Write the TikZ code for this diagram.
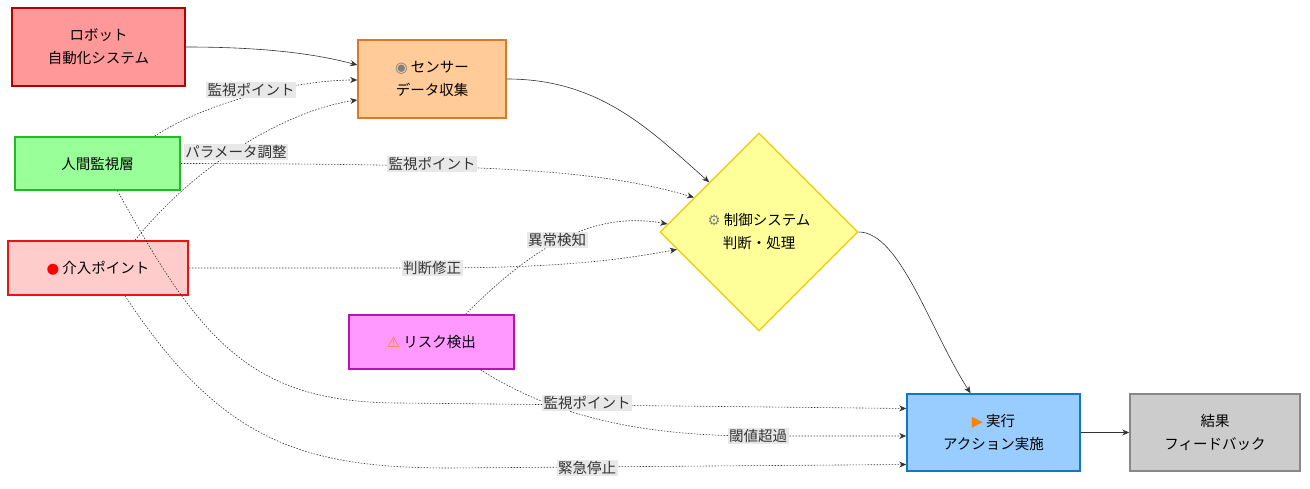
\documentclass[tikz,border=0pt]{standalone}
\usepackage{fontspec}
\setmainfont{Noto Sans CJK JP}
\newfontfamily\sym{DejaVu Sans}
\usetikzlibrary{shapes.geometric,arrows.meta}
\definecolor{ln}{HTML}{333333}
\definecolor{rF}{HTML}{FF9999}\definecolor{rD}{HTML}{B40000}
\definecolor{sF}{HTML}{FFCC99}\definecolor{sD}{HTML}{E07820}
\definecolor{hF}{HTML}{99FF99}\definecolor{hD}{HTML}{22BB22}
\definecolor{iF}{HTML}{FFCCCC}\definecolor{iD}{HTML}{EE1111}
\definecolor{kF}{HTML}{FF99FF}\definecolor{kD}{HTML}{BB11BB}
\definecolor{cF}{HTML}{FFFF99}\definecolor{cD}{HTML}{EECC00}
\definecolor{eF}{HTML}{99CCFF}\definecolor{eD}{HTML}{1177CC}
\definecolor{gF}{HTML}{CCCCCC}\definecolor{gD}{HTML}{888888}
\begin{document}
\begin{tikzpicture}[x=1pt,y=-1pt,font=\fontsize{14.5}{23}\selectfont,
 box/.style={draw,line width=1.6pt,align=center,inner sep=0pt},
 lab/.style={fill=black!9,text=black!80,inner sep=1.5pt},
 arr/.style={draw=ln,line width=0.6pt,-{Stealth[length=7pt,width=6pt]}},
 dot/.style={arr,dash pattern=on 1.5pt off 1.5pt}]
\useasboundingbox (0,0) rectangle (1310,489);
\node[box,fill=rF,draw=rD,minimum width=173pt,minimum height=78pt] (robot) at (98.5,47) {ロボット\\自動化システム};
\node[box,fill=sF,draw=sD,minimum width=148pt,minimum height=78pt] (sensor) at (432,79) {{\sym\color{gray}◉} センサー\\データ収集};
\node[box,fill=hF,draw=hD,minimum width=165pt,minimum height=53pt] (human) at (97.5,163.5) {人間監視層};
\node[box,fill=iF,draw=iD,minimum width=180pt,minimum height=54pt] (inter) at (98,268) {{\sym\color{red}●} 介入ポイント};
\node[box,fill=kF,draw=kD,minimum width=165pt,minimum height=54pt] (risk) at (431.5,342) {{\sym\color{orange}⚠} リスク検出};
\node[box,diamond,fill=cF,draw=cD,minimum width=198pt,minimum height=198pt,line width=1.3pt] (ctrl) at (759,232) {{\sym\color{gray}⚙} 制御システム\\判断・処理};
\node[box,fill=eF,draw=eD,minimum width=173pt,minimum height=77pt] (exec) at (993.5,432.5) {{\sym\color{orange}▶} 実行\\アクション実施};
\node[box,fill=gF,draw=gD,minimum width=170pt,minimum height=77pt] (res) at (1215,432.5) {結果\\フィードバック};

\draw[arr] (robot.east) .. controls (270,47) and (320,55) .. ([yshift=14pt]sensor.west);
\draw[dot] ([xshift=57pt]human.north) .. controls (210,100) and (300,80) .. ([yshift=-1pt]sensor.west);
\draw[dot] ([xshift=37pt]inter.north) .. controls (200,160) and (290,110) .. ([yshift=-21pt]sensor.west);
\draw[dot] (human.east) .. controls (500,164) and (600,170) .. (ctrl.152);
\draw[dot] ([xshift=20pt]human.south) .. controls (200,340) and (250,403) .. (400,403) -- ([yshift=24pt]exec.west);
\draw[dot] (inter.east) -- (430,268) .. controls (560,268) and (620,260) .. (ctrl.192);
\draw[dot] ([xshift=27pt]inter.south) .. controls (220,440) and (300,468) .. (450,468) -- ([yshift=-32pt]exec.west);
\draw[dot] ([xshift=34pt]risk.north) .. controls (530,250) and (590,210) .. (ctrl.175);
\draw[dot] ([xshift=49pt]risk.south) .. controls (560,420) and (650,436) .. (758,436) -- ([yshift=-3.5pt]exec.west);
\draw[arr] (sensor.east) .. controls (600,79) and (650,130) .. (ctrl.north west);
\draw[arr] (ctrl.east) .. controls (900,232) and (930,330) .. ([xshift=-23pt]exec.north);
\draw[arr] (exec.east) -- (res.west);

\node[lab] (l1) at (251,90) {監視ポイント};
\node[lab] (l2) at (236,152) {パラメータ調整};
\node[lab] (l3) at (432,164) {監視ポイント};
\node[lab] (l4) at (557,240) {異常検知};
\node[lab] (l5) at (432,268) {判断修正};
\node[lab] (l6) at (587,403) {監視ポイント};
\node[lab] (l7) at (758,436) {閾値超過};
\node[lab] (l8) at (587,468) {緊急停止};
\end{tikzpicture}
\end{document}
